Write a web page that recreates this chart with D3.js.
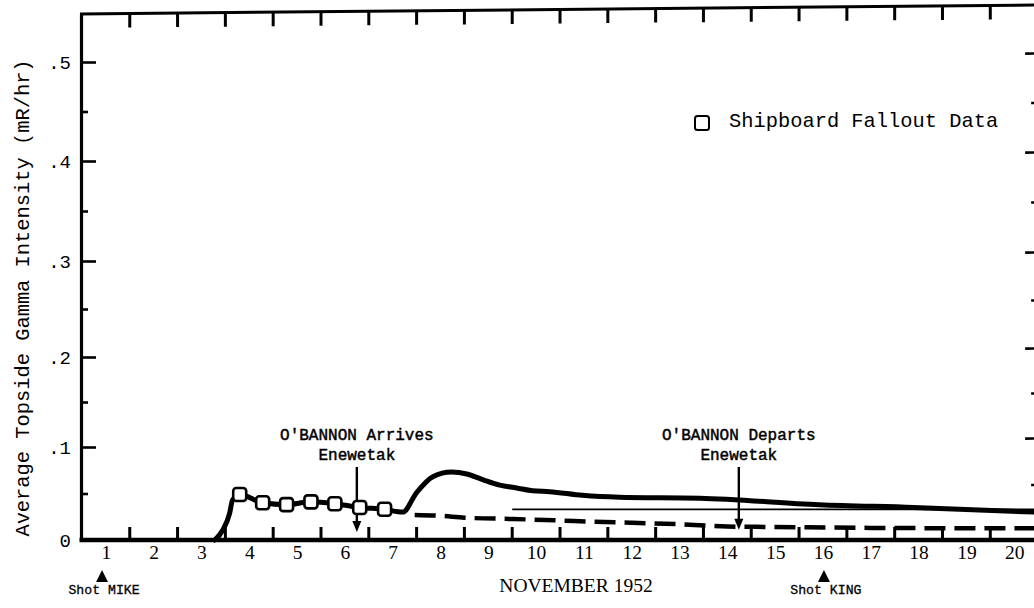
<!DOCTYPE html>
<html>
<head>
<meta charset="utf-8">
<script src="https://cdn.jsdelivr.net/npm/d3@7"></script>
<style>
  html, body { margin: 0; padding: 0; background: #fff; }
  svg { display: block; }
  .mono { font-family: "Liberation Mono", "DejaVu Sans Mono", monospace; }
  .serif { font-family: "Liberation Serif", "DejaVu Serif", serif; }
</style>
</head>
<body>
<svg id="chart" width="1034" height="608"></svg>
<script>
// ---- axis values -------------------------------------------------------
const dayLabels = d3.range(1, 21);              // November 1 .. 20
const dayBoundaries = d3.range(1.5, 21, 1);     // marks between days
const yMajor = [0, 0.1, 0.2, 0.3, 0.4, 0.5];
const yMajorLabels = ["0", ".1", ".2", ".3", ".4", ".5"];
const yMinor = [0.05, 0.15, 0.25, 0.35, 0.45];

// ---- shipboard fallout readings (day of November, mR/hr) ----------------
const shipDays   = [3.80, 4.28, 4.78, 5.29, 5.79, 6.31, 6.83];
const shipValues = [0.049, 0.040, 0.038, 0.041, 0.039, 0.035, 0.033];

// ---- solid curve: onset before the shipboard readings ------------------
const riseDays   = [3.28, 3.45, 3.59, 3.65];
const riseValues = [0.000, 0.011, 0.029, 0.043];

// ---- solid curve: second rise and slow decay ----------------------------
const decayDays   = [7.21, 7.50, 7.84, 8.23, 8.55, 8.88, 9.24, 9.59, 9.93, 10.28, 10.97, 11.74, 13.42, 15.92, 17.89, 20.40, 20.70];
const decayValues = [0.030, 0.051, 0.068, 0.073, 0.071, 0.065, 0.059, 0.056, 0.053, 0.052, 0.048, 0.046, 0.045, 0.038, 0.035, 0.030, 0.0295];

// ---- dashed curve --------------------------------------------------------
const dashDays   = [7.46, 8.0, 8.5, 9.5, 10.2, 10.8, 12.0, 13.0, 14.0, 15.0, 17.0, 20.7];
const dashValues = [0.027, 0.026, 0.024, 0.0226, 0.0215, 0.0204, 0.0185, 0.017, 0.0145, 0.014, 0.013, 0.0125];

// ---- thin reference level -------------------------------------------------
const levelDays   = [9.5, 20.7];
const levelValues = [0.033, 0.033];

// ---- events --------------------------------------------------------------
const shotDays  = [0.92, 16.02];
const shotNames = ["Shot MIKE", "Shot KING"];

const eventDays   = [6.25, 14.24];
const eventLines  = [["O'BANNON Arrives", "Enewetak"], ["O'BANNON Departs", "Enewetak"]];
const eventTops   = [0.0785, 0.0785];
const eventTips   = [0.0086, 0.011];

// ---- scales ----------------------------------------------------------------
const svg = d3.select("#chart");
const x = d3.scaleLinear().domain([0.48, 21]).range([81, 1062]);
// hand-ruled vertical axis: one linear piece per tenth
const y = d3.scaleLinear()
  .domain([0, 0.1, 0.2, 0.3, 0.4, 0.5, 0.55])
  .range([540, 447, 357, 261, 161, 62, 14]);

const xLeft = x(0.48), xRight = x(20.48);
const yTop = y(0.55), yBase = y(0);

const zip = (ds, vs) => ds.map((d, i) => ({ day: d, v: vs[i] }));
const curve = d3.line().x(d => x(d.day)).y(d => y(d.v)).curve(d3.curveMonotoneX);

function styleAxis(g, w) {
  g.selectAll("path.domain").attr("stroke", "#000").attr("stroke-width", w);
  g.selectAll(".tick line").attr("stroke", "#000").attr("stroke-width", 2.6);
}

// day marks between calendar days, drawn as small filled bars
function dayBars(g, yEdge, len) {
  g.selectAll("rect")
    .data(dayBoundaries)
    .join("rect")
    .attr("x", d => x(d) - 1.5).attr("width", 3)
    .attr("y", len > 0 ? yEdge : yEdge + len).attr("height", Math.abs(len))
    .attr("fill", "#000");
}

// ---- frame: top and right edges lean slightly --------------------------
const lean = Math.atan(-9 / (xRight - xLeft)) * 180 / Math.PI;
const frame = svg.append("g")
  .attr("transform", `translate(${xLeft},${yTop}) skewY(${lean}) translate(${-xLeft},${-yTop})`);

frame.append("line")
  .attr("x1", xLeft - 1).attr("x2", x(21)).attr("y1", yTop).attr("y2", yTop)
  .attr("stroke", "#000").attr("stroke-width", 3);
frame.append("g").call(g => dayBars(g, yTop, 14));

frame.append("g")
  .attr("transform", `translate(${xRight},0)`)
  .call(d3.axisRight(y).tickValues(yMajor.slice(1)).tickSize(-12).tickSizeOuter(0).tickFormat(""))
  .call(g => styleAxis(g, 3));
frame.append("g")
  .attr("transform", `translate(${xRight},0)`)
  .call(d3.axisRight(y).tickValues(yMinor).tickSize(-6).tickSizeOuter(0).tickFormat(""))
  .call(g => g.select("path.domain").remove())
  .call(g => styleAxis(g, 3));

// ---- left axis -------------------------------------------------------------
svg.append("g")
  .attr("transform", `translate(${xLeft},0)`)
  .call(d3.axisLeft(y).tickValues(yMajor.slice(1)).tickSize(-15).tickSizeOuter(0)
        .tickPadding(10).tickFormat(d => yMajorLabels[yMajor.indexOf(d)]))
  .call(g => styleAxis(g, 3.2))
  .call(g => g.selectAll("text").attr("class", "mono").attr("font-size", 19).attr("fill", "#000"));
svg.append("g")
  .attr("transform", `translate(${xLeft},0)`)
  .call(d3.axisLeft(y).tickValues(yMinor).tickSize(-7).tickSizeOuter(0).tickFormat(""))
  .call(g => g.select("path.domain").remove())
  .call(g => styleAxis(g, 3));
svg.append("text").attr("class", "mono")
  .attr("x", xLeft - 10).attr("y", yBase + 7)
  .attr("text-anchor", "end").attr("font-size", 19).text(yMajorLabels[0]);

// ---- bottom axis -----------------------------------------------------------
svg.append("g").call(g => dayBars(g, yBase, -13));
svg.append("g")
  .attr("transform", `translate(0,${yBase})`)
  .call(d3.axisBottom(x).tickValues(dayLabels).tickSize(0).tickSizeOuter(0).tickPadding(5))
  .call(g => g.select("path.domain").attr("stroke", "#000").attr("stroke-width", 4.5)
              .attr("d", `M${xLeft - 1.5},0H${x(21)}`))
  .call(g => g.selectAll("text").attr("class", "serif").attr("font-size", 19.5).attr("fill", "#000"));

// ---- axis titles -----------------------------------------------------------
svg.append("text").attr("class", "mono")
  .attr("transform", "translate(29,298) rotate(-90)")
  .attr("text-anchor", "middle").attr("font-size", 20.4)
  .text("Average Topside Gamma Intensity (mR/hr)");

svg.append("text").attr("class", "serif")
  .attr("x", 576).attr("y", 592)
  .attr("text-anchor", "middle").attr("font-size", 19.5)
  .text("NOVEMBER 1952");

// ---- curves ------------------------------------------------------------------
svg.append("path")
  .datum(zip(levelDays, levelValues))
  .attr("d", d3.line().x(d => x(d.day)).y(d => y(d.v)))
  .attr("fill", "none").attr("stroke", "#000").attr("stroke-width", 1.8);

svg.append("path")
  .datum(zip(dashDays, dashValues))
  .attr("d", curve)
  .attr("fill", "none").attr("stroke", "#000").attr("stroke-width", 4.5)
  .attr("stroke-dasharray", "21 9");

const solid = zip(riseDays, riseValues)
  .concat(zip(shipDays, shipValues))
  .concat(zip(decayDays, decayValues));
svg.append("path")
  .datum(solid)
  .attr("d", curve)
  .attr("fill", "none").attr("stroke", "#000").attr("stroke-width", 5)
  .attr("stroke-linejoin", "round").attr("stroke-linecap", "round");

// ---- event arrows ------------------------------------------------------------
eventDays.forEach((d, i) => {
  const ax = x(d), top = y(eventTops[i]), tip = y(eventTips[i]);
  svg.append("line")
    .attr("x1", ax).attr("x2", ax).attr("y1", top).attr("y2", tip - 6)
    .attr("stroke", "#000").attr("stroke-width", 2.4);
  svg.append("path")
    .attr("d", `M${ax},${tip} L${ax - 4.5},${tip - 11} L${ax + 4.5},${tip - 11} Z`)
    .attr("fill", "#000");
  eventLines[i].forEach((t, j) => {
    svg.append("text").attr("class", "mono")
      .attr("x", ax).attr("y", top - 27 + j * 20)
      .attr("text-anchor", "middle").attr("font-size", 16)
      .attr("stroke", "#000").attr("stroke-width", 0.45)
      .text(t);
  });
});

// ---- shipboard squares -----------------------------------------------------
svg.append("g").selectAll("rect")
  .data(zip(shipDays, shipValues))
  .join("rect")
  .attr("x", d => x(d.day) - 6.5).attr("y", d => y(d.v) - 6.5)
  .attr("width", 13).attr("height", 13).attr("rx", 3)
  .attr("fill", "#fff").attr("stroke", "#000").attr("stroke-width", 2.6);

// ---- shots ---------------------------------------------------------------
shotDays.forEach((d, i) => {
  const sx = x(d);
  svg.append("path")
    .attr("d", `M${sx},${yBase + 30} L${sx - 6},${yBase + 42} L${sx + 6},${yBase + 42} Z`)
    .attr("fill", "#000");
  svg.append("text").attr("class", "mono")
    .attr("x", sx + 2).attr("y", yBase + 54)
    .attr("text-anchor", "middle").attr("font-size", 13.2)
    .attr("stroke", "#000").attr("stroke-width", 0.3)
    .text(shotNames[i]);
});

// ---- legend ----------------------------------------------------------------
svg.append("rect")
  .attr("x", 695).attr("y", 116).attr("width", 14).attr("height", 14).attr("rx", 2.5)
  .attr("fill", "#fff").attr("stroke", "#000").attr("stroke-width", 2);
svg.append("text").attr("class", "mono")
  .attr("x", 729).attr("y", 127).attr("font-size", 20.4)
  .text("Shipboard Fallout Data");
</script>
</body>
</html>
